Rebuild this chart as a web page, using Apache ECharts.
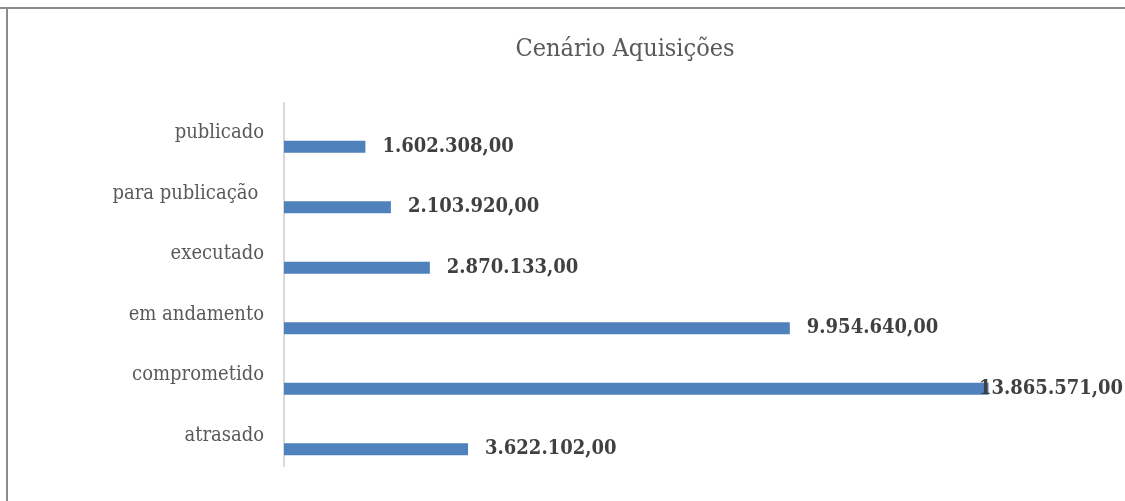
<!DOCTYPE html>
<html>
<head>
<meta charset="utf-8">
<script src="https://cdn.jsdelivr.net/npm/echarts@6/dist/echarts.min.js"></script>
<style>
html,body{margin:0;padding:0;background:#fff;}
#c{width:1125px;height:501px;}
</style>
</head>
<body>
<div id="c"></div>
<script>
const title = 'Cenário Aquisições';
const categories = ['atrasado', 'comprometido', 'em andamento', 'executado', 'para publicação ', 'publicado'];
const values = [3622102, 13865571, 9954640, 2870133, 2103920, 1602308];

function fmt(v) {
  const s = Math.round(v).toString().replace(/\B(?=(\d{3})+(?!\d))/g, '.');
  return s + ',00';
}

const serif = '"DejaVu Serif Condensed", "DejaVu Serif", serif';
const chart = echarts.init(document.getElementById('c'));
chart.setOption({
  backgroundColor: '#fff',
  animation: false,
  title: {
    text: title,
    left: 620,
    textAlign: 'center',
    top: 32,
    textStyle: { fontFamily: serif, fontWeight: 'normal', fontSize: 25, color: '#595959' }
  },
  graphic: [
    { type: 'line', shape: { x1: 0, y1: 8, x2: 1125, y2: 8 }, style: { stroke: '#8c8c8c', lineWidth: 2 } },
    { type: 'line', shape: { x1: 7, y1: 8, x2: 7, y2: 501 }, style: { stroke: '#8c8c8c', lineWidth: 2 } }
  ],
  grid: { left: 284, top: 103, width: 813, height: 363, containLabel: false },
  xAxis: {
    type: 'value', min: 0, max: 16000000,
    axisLine: { show: false }, axisTick: { show: false }, axisLabel: { show: false }, splitLine: { show: false }
  },
  yAxis: {
    type: 'category', data: categories,
    axisLine: { show: true, lineStyle: { color: '#d9d9d9', width: 2 } },
    axisTick: { show: false },
    axisLabel: { fontFamily: serif, fontSize: 20, color: '#595959', margin: 20, padding: [8, 0, 0, 0] }
  },
  series: [
    { type: 'bar', name: 'dummy', data: categories.map(() => null), barWidth: 12, barGap: '125%', silent: true },
    {
      type: 'bar', name: 'valor', data: values, barWidth: 12, barGap: '125%',
      itemStyle: { color: '#4f81bd' },
      label: {
        show: true, position: 'right', distance: 17,
        fontFamily: serif, fontWeight: 'bold', fontSize: 20, color: '#404040',
        padding: [8, 0, 0, 0],
        formatter: p => fmt(p.value)
      }
    }
  ],
  labelLayout: function (params) {
    const r = params.labelRect;
    if (r.x + r.width > 1123) {
      return { x: 1123 - r.width, y: r.y + r.height / 2, align: 'left', verticalAlign: 'middle' };
    }
    return {};
  }
});
</script>
</body>
</html>
